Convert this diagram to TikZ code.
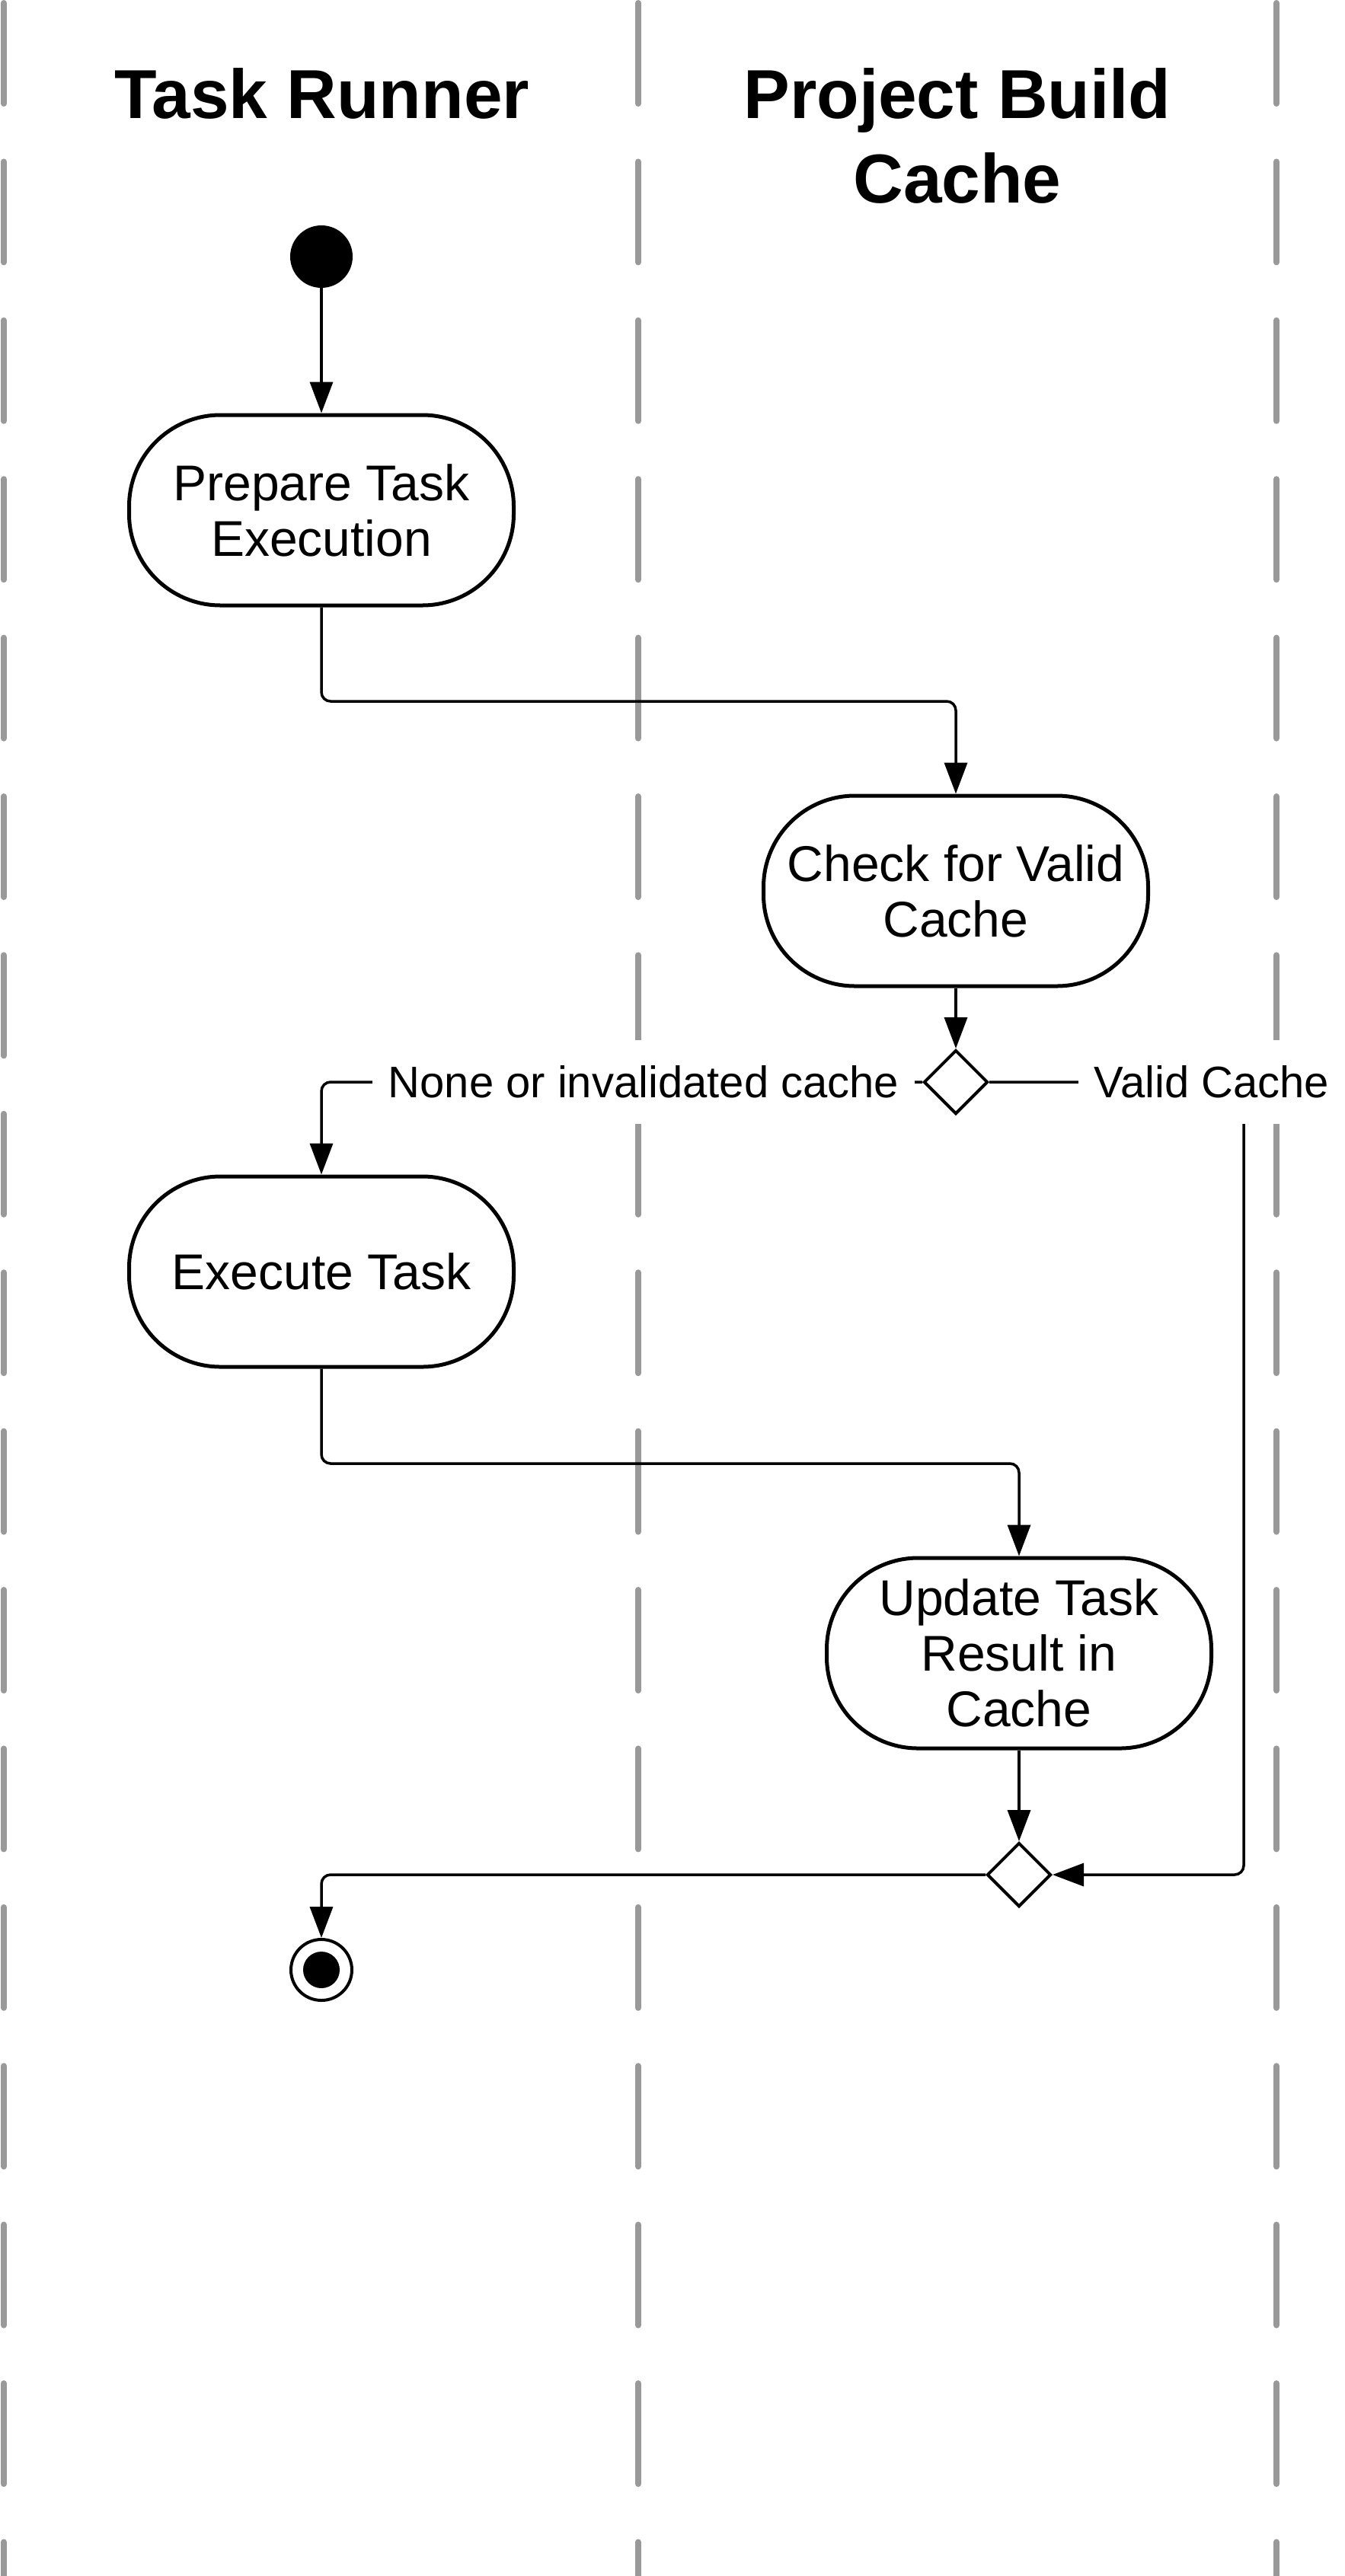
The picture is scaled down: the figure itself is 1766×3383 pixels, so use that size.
\documentclass[tikz,border=0pt]{standalone}
\usepackage{fontspec}
\setmainfont{Liberation Sans}
\usetikzlibrary{arrows.meta,shapes.geometric}
\definecolor{lanegray}{HTML}{999999}
\begin{document}
\begin{tikzpicture}[x=1pt,y=-1pt,
  lane/.style={draw=lanegray,line width=8pt,line cap=round},
  act/.style={draw,line width=5pt,rectangle,rounded corners=120pt,minimum width=505pt,minimum height=250pt,align=center,font=\fontsize{66}{73}\selectfont,inner sep=0pt,fill=white},
  flow/.style={draw,line width=3.5pt,-{Triangle[length=41pt,width=30pt]},rounded corners=12pt},
  dia/.style={diamond,draw,line width=4pt,minimum size=84pt,inner sep=0pt,aspect=1,fill=white},
  lbl/.style={fill=white,font=\fontsize{58}{64}\selectfont,inner xsep=21pt,inner ysep=34pt},
  ttl/.style={font=\bfseries\fontsize{91}{111}\selectfont,align=center,inner sep=0pt,anchor=north}]
\useasboundingbox (0,0) rectangle (1766,3383);
% swimlane separators
\begin{scope}
\clip (0,0) rectangle (1766,3383);
\foreach \lx in {5,838,1676} {
  \foreach \k in {0,...,16} {
    \draw[lane] (\lx,{\k*208.4+4}) -- (\lx,{\k*208.4+136});
  }
}
\end{scope}
% titles
\node[ttl] (t1) at (423,89) {Task Runner};
\node[ttl] (t2) at (1257,89) {Project Build\\Cache};
% nodes
\node[circle,fill=black,minimum size=82pt,inner sep=0pt] (start) at (422,337) {};
\node[act] (prep) at (422,670) {Prepare Task\\Execution};
\node[act] (check) at (1255,1170) {Check for Valid\\Cache};
\node[dia] (dec) at (1255,1421) {};
\node[act] (exec) at (422,1670) {Execute Task};
\node[act] (upd) at (1338,2171) {Update Task\\Result in\\Cache};
\node[dia] (merge) at (1338,2462) {};
\node[circle,draw,line width=4pt,minimum size=80pt,inner sep=0pt] (final) at (422,2587) {};
\fill (final.center) circle[radius=24pt];
% helper coordinates
\coordinate (e1) at (1255,921);
\coordinate (e2) at (1338,1922);
\coordinate (vc) at (1633,1421);
% connectors
\draw[flow] (start) -- (prep);
\draw[flow] (prep.south) |- (e1) -- (check.north);
\draw[flow] (check) -- (dec);
\draw[flow] (dec.west) -| (exec.north);
\draw[flow] (exec.south) |- (e2) -- (upd.north);
\draw[flow] (upd) -- (merge);
\draw[flow] (dec.east) -- (vc) |- (merge.east);
\draw[flow] (merge.west) -| (final.north);
% labels
\node[lbl] (lnone) at (845,1421) {None or invalidated cache};
\node[lbl] (lvalid) at (1591,1421) {Valid Cache};
\end{tikzpicture}
\end{document}
